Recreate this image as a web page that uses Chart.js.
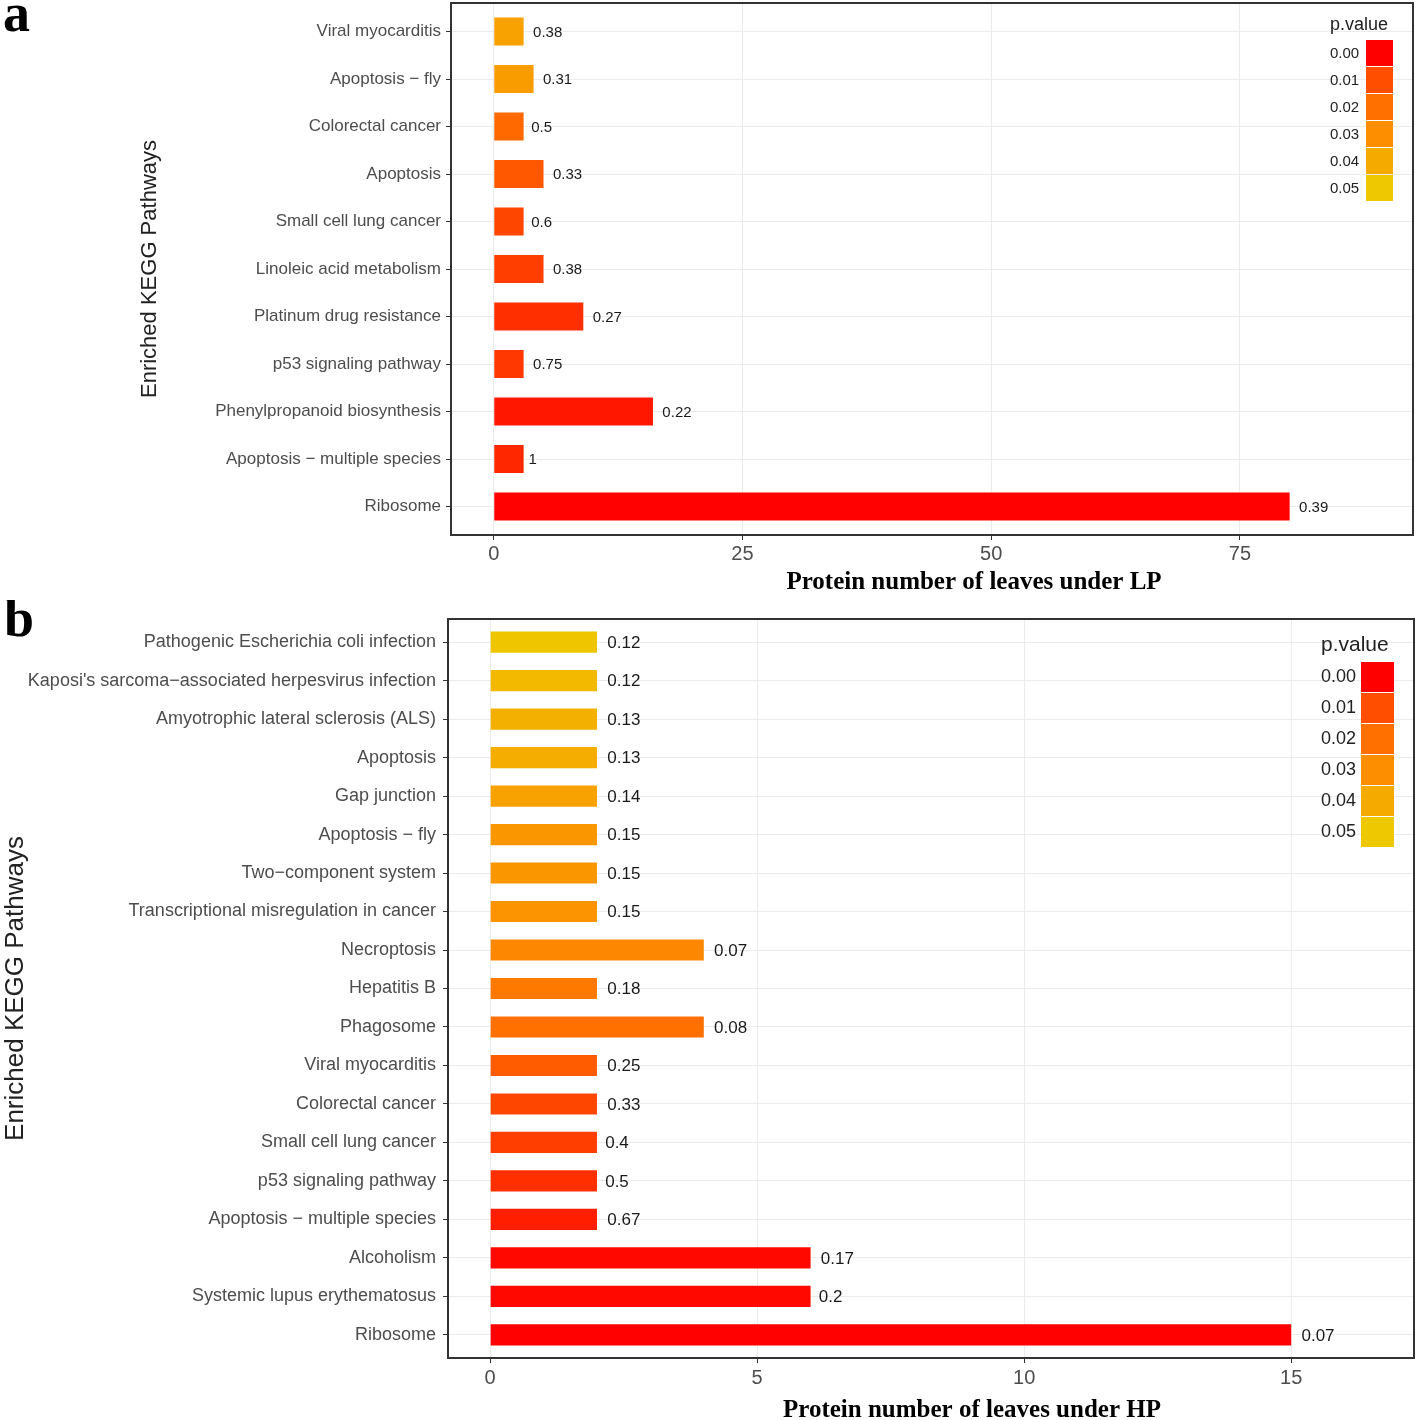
<!DOCTYPE html>
<html>
<head>
<meta charset="utf-8">
<title>KEGG enrichment</title>
<script src="https://cdn.jsdelivr.net/npm/chart.js@4.4.0/dist/chart.umd.min.js"></script>
<style>
  body { margin: 0; background: #fff; }
  #wrap { position: relative; width: 1418px; height: 1420px; }
  canvas { position: absolute; left: 0; }
</style>
</head>
<body>
<div id="wrap">
  <canvas id="chartA" width="1418" height="600" style="top:0"></canvas>
  <canvas id="chartB" width="1418" height="820" style="top:600px"></canvas>
</div>
<script>
// ---- panel a : LP
var pathwaysA = [
  "Viral myocarditis", "Apoptosis \u2212 fly", "Colorectal cancer", "Apoptosis",
  "Small cell lung cancer", "Linoleic acid metabolism", "Platinum drug resistance",
  "p53 signaling pathway", "Phenylpropanoid biosynthesis",
  "Apoptosis \u2212 multiple species", "Ribosome"
];
var countsA = [3, 4, 3, 5, 3, 5, 9, 3, 16, 3, 80];
var ratiosA = ["0.38", "0.31", "0.5", "0.33", "0.6", "0.38", "0.27", "0.75", "0.22", "1", "0.39"];
var pvalA = [0.037, 0.035, 0.018, 0.013, 0.009, 0.008, 0.006, 0.007, 0.003, 0.005, 0.0001];
var xTicksA = [0, 25, 50, 75];

// ---- panel b : HP
var pathwaysB = [
  "Pathogenic Escherichia coli infection",
  "Kaposi's sarcoma\u2212associated herpesvirus infection",
  "Amyotrophic lateral sclerosis (ALS)", "Apoptosis", "Gap junction",
  "Apoptosis \u2212 fly", "Two\u2212component system",
  "Transcriptional misregulation in cancer", "Necroptosis", "Hepatitis B",
  "Phagosome", "Viral myocarditis", "Colorectal cancer", "Small cell lung cancer",
  "p53 signaling pathway", "Apoptosis \u2212 multiple species", "Alcoholism",
  "Systemic lupus erythematosus", "Ribosome"
];
var countsB = [2, 2, 2, 2, 2, 2, 2, 2, 4, 2, 4, 2, 2, 2, 2, 2, 6, 6, 15];
var ratiosB = ["0.12", "0.12", "0.13", "0.13", "0.14", "0.15", "0.15", "0.15", "0.07", "0.18",
               "0.08", "0.25", "0.33", "0.4", "0.5", "0.67", "0.17", "0.2", "0.07"];
var pvalB = [0.049, 0.045, 0.042, 0.041, 0.037, 0.033, 0.033, 0.032, 0.028, 0.023,
             0.020, 0.014, 0.009, 0.008, 0.006, 0.004, 0.001, 0.001, 0.0001];
var xTicksB = [0, 5, 10, 15];

// legend breaks
var legendValues = [0, 0.01, 0.02, 0.03, 0.04, 0.05];
var legendLabels = ["0.00", "0.01", "0.02", "0.03", "0.04", "0.05"];

// colour ramp red -> gold
var rampStops = [0, 0.01, 0.02, 0.03, 0.04, 0.05];
var rampCols = [[255, 0, 0], [255, 78, 0], [255, 112, 0], [252, 142, 0], [245, 170, 0], [238, 200, 0]];

function pColor(p) {
  if (p <= rampStops[0]) return "rgb(" + rampCols[0].join(",") + ")";
  for (var i = 1; i < rampStops.length; i++) {
    if (p <= rampStops[i]) {
      var t = (p - rampStops[i - 1]) / (rampStops[i] - rampStops[i - 1]);
      var a = rampCols[i - 1], b = rampCols[i];
      return "rgb(" + [0, 1, 2].map(function (k) { return Math.round(a[k] + (b[k] - a[k]) * t); }).join(",") + ")";
    }
  }
  return "rgb(" + rampCols[rampCols.length - 1].join(",") + ")";
}

var SANS = "'Liberation Sans', Arial, Helvetica, sans-serif";
var SERIF = "'Liberation Serif', 'Times New Roman', serif";

// draws border, value labels, legend, axis titles and the panel letter
var panelExtras = {
  id: "panelExtras",
  afterDraw: function (chart, args, o) {
    var ctx = chart.ctx, ca = chart.chartArea;
    ctx.save();

    // value labels next to each bar
    var meta = chart.getDatasetMeta(0);
    ctx.font = o.valueSize + "px " + SANS;
    ctx.fillStyle = "#1a1a1a";
    ctx.textBaseline = "middle";
    ctx.textAlign = "left";
    meta.data.forEach(function (bar, i) {
      var txt = o.ratios[i];
      var w = ctx.measureText(txt).width;
      ctx.fillText(txt, bar.x + 3 + 0.22 * w, bar.y + 1);
    });

    // panel border
    ctx.strokeStyle = "#333";
    ctx.lineWidth = 2;
    ctx.strokeRect(ca.left, ca.top, ca.right - ca.left, ca.bottom - ca.top);

    // legend
    var lg = o.legend;
    ctx.fillStyle = "#222";
    ctx.font = lg.titleSize + "px " + SANS;
    ctx.fillText("p.value", lg.textX, lg.titleY);
    ctx.font = lg.labelSize + "px " + SANS;
    legendValues.forEach(function (v, i) {
      var y = lg.keyTop + i * lg.keyStep;
      ctx.fillStyle = pColor(v);
      ctx.fillRect(lg.keyX, y, lg.keyW, lg.keyStep - 1);
      ctx.fillStyle = "#222";
      ctx.fillText(legendLabels[i], lg.textX, y + lg.keyStep / 2);
    });

    // y title
    ctx.fillStyle = "#222";
    ctx.font = o.yTitleSize + "px " + SANS;
    ctx.textAlign = "center";
    ctx.translate(o.yTitleX, (ca.top + ca.bottom) / 2);
    ctx.rotate(-Math.PI / 2);
    ctx.fillText("Enriched KEGG Pathways", 0, 0);
    ctx.setTransform(1, 0, 0, 1, 0, 0);

    // x title
    ctx.fillStyle = "#000";
    ctx.font = "bold 25px " + SERIF;
    ctx.fillText(o.xTitle, o.xTitleX, o.xTitleY);

    // panel letter
    ctx.textAlign = "left";
    ctx.textBaseline = "alphabetic";
    ctx.font = "bold 54px " + SERIF;
    ctx.fillText(o.letter, o.letterX, o.letterY);

    ctx.restore();
  }
};

function makePanel(id, names, counts, pvals, ratios, xTicks, s) {
  var ctx = document.getElementById(id).getContext("2d");
  return new Chart(ctx, {
    type: "bar",
    data: {
      datasets: [{
        data: counts.map(function (c, i) { return { x: c, y: i }; }),
        backgroundColor: pvals.map(pColor),
        borderWidth: 0,
        categoryPercentage: 1,
        barPercentage: s.barPct
      }]
    },
    options: {
      indexAxis: "y",
      responsive: false,
      animation: false,
      layout: { padding: { left: 0, right: s.padRight, top: s.padTop, bottom: 0 } },
      plugins: {
        legend: { display: false },
        tooltip: { enabled: false },
        panelExtras: {
          ratios: ratios,
          valueSize: s.valueSize,
          legend: s.legend,
          yTitleSize: s.yTitleSize,
          yTitleX: s.yTitleX,
          xTitle: s.xTitle,
          xTitleX: s.xTitleX,
          xTitleY: s.xTitleY,
          letter: s.letter,
          letterX: s.letterX,
          letterY: s.letterY
        }
      },
      scales: {
        x: {
          type: "linear",
          min: s.xMin,
          max: s.xMax,
          offset: false,
          afterBuildTicks: function (scale) {
            scale.ticks = xTicks.map(function (v) { return { value: v }; });
          },
          afterFit: function (scale) { scale.height = s.xAxisH; },
          grid: { color: "#ebebeb", lineWidth: 1, tickColor: "#333", tickLength: 5, offset: false },
          border: { display: false },
          ticks: {
            color: "#4d4d4d",
            font: { family: SANS, size: 20 },
            padding: s.xTickPad
          }
        },
        y: {
          type: "linear",
          reverse: true,
          offset: false,
          min: -0.6,
          max: names.length - 0.4,
          afterBuildTicks: function (scale) {
            scale.ticks = names.map(function (n, i) { return { value: i }; });
          },
          afterFit: function (scale) {
            scale.width = s.yAxisW;
            scale.paddingTop = 0;
            scale.paddingBottom = 0;
          },
          grid: { color: "#ebebeb", lineWidth: 1, tickColor: "#333", tickLength: 5, offset: false },
          border: { display: false },
          ticks: {
            autoSkip: false,
            color: "#4d4d4d",
            font: { family: SANS, size: s.catSize },
            padding: s.yTickPad,
            callback: function (v) { return names[v]; }
          }
        }
      }
    },
    plugins: [panelExtras]
  });
}

makePanel("chartA", pathwaysA, countsA, pvalA, ratiosA, xTicksA, {
  barPct: 0.59, padRight: 5, padTop: 3, xMin: -4.3, xMax: 92.4,
  xAxisH: 65, yAxisW: 451, xTickPad: 2, yTickPad: 5, catSize: 17, valueSize: 15,
  yTitleSize: 22, yTitleX: 150, xTitle: "Protein number of leaves under LP",
  xTitleX: 974, xTitleY: 583, letter: "a", letterX: 3, letterY: 31,
  legend: { titleSize: 18, labelSize: 15, textX: 1330, titleY: 25,
            keyX: 1366, keyW: 27, keyTop: 40, keyStep: 27 }
});

makePanel("chartB", pathwaysB, countsB, pvalB, ratiosB, xTicksB, {
  barPct: 0.55, padRight: 4, padTop: 19, xMin: -0.79, xMax: 17.3,
  xAxisH: 62, yAxisW: 448, xTickPad: 3, yTickPad: 7, catSize: 18, valueSize: 17,
  yTitleSize: 26, yTitleX: 16, xTitle: "Protein number of leaves under HP",
  xTitleX: 972, xTitleY: 811, letter: "b", letterX: 4, letterY: 36,
  legend: { titleSize: 21, labelSize: 18, textX: 1321, titleY: 45,
            keyX: 1361, keyW: 33, keyTop: 62, keyStep: 31 }
});
</script>
</body>
</html>
